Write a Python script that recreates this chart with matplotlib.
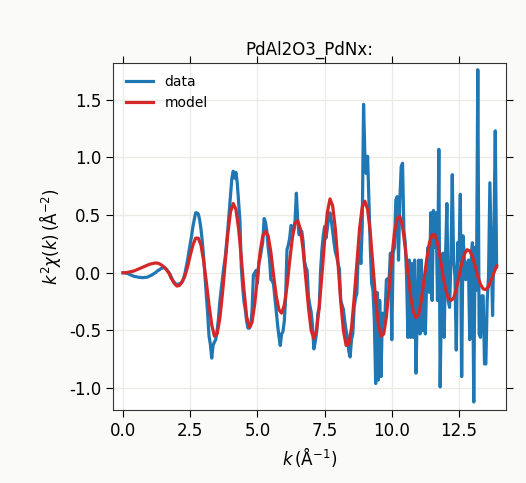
import numpy as np
import matplotlib
matplotlib.use('Agg')
import matplotlib.pyplot as plt

#%% data (k step 0.05 for data, 0.1 for model)
k_data = np.round(np.arange(0, 13.91, 0.05), 2)
chi_data = [
    0.0, 0.0, -0.002, -0.005, -0.01, -0.015, -0.02, -0.025, -0.03, -0.033,
    -0.035, -0.037, -0.04, -0.04, -0.042, -0.042, -0.04, -0.04, -0.038, -0.033,
    -0.028, -0.022, -0.015, -0.008, 0.0, 0.01, 0.02, 0.025, 0.035, 0.04,
    0.045, 0.045, 0.035, 0.02, 0.005, -0.015, -0.04, -0.065, -0.08, -0.095,
    -0.10, -0.10, -0.095, -0.09, -0.075, -0.05, -0.01, 0.05, 0.11, 0.18,
    0.25, 0.32, 0.40, 0.46, 0.52, 0.52, 0.51, 0.46, 0.38, 0.27,
    0.13, -0.03, -0.18, -0.36, -0.55, -0.62, -0.74, -0.63, -0.60, -0.58,
    -0.50, -0.40, -0.25, -0.15, -0.05, 0.05, 0.13, 0.25, 0.38, 0.53,
    0.68, 0.82, 0.88, 0.82, 0.87, 0.78, 0.62, 0.45, 0.05, -0.12,
    -0.25, -0.32, -0.42, -0.48, -0.48, -0.46, -0.33, -0.02, 0.0, 0.02,
    -0.09, 0.08, 0.13, 0.20, 0.27, 0.47, 0.44, 0.36, 0.22, 0.12,
    -0.06, -0.07, -0.10, -0.22, -0.33, -0.45, -0.55, -0.63, -0.53, -0.51,
    -0.42, -0.22, 0.20, 0.24, 0.30, 0.41, 0.40, 0.37, 0.45, 0.69,
    0.45, 0.33, 0.35, 0.36, 0.27, 0.10, 0.05, 0.02, -0.21, -0.28,
    -0.34, -0.46, -0.66, -0.60, -0.52, -0.35, -0.30, 0.02, 0.20, 0.32,
    0.40, 0.30, 0.38, 0.48, 0.52, 0.45, 0.36, 0.26, 0.18, 0.14,
    0.08, 0.03, -0.24, -0.28, -0.32, -0.42, -0.50, -0.56, -0.68, -0.73,
    -0.58, -0.53, -0.30, -0.22, -0.18, 0.14, 0.22, 0.08, 0.40, 1.46,
    1.01, 0.86, 1.01, 0.63, 0.22, -0.09, -0.15, -0.41, -0.96, -0.17,
    -0.93, -0.24, -0.90, -0.35, -0.44, -0.35, -0.06, -0.05, -0.06, 0.17,
    -0.58, 0.17, 0.22, 0.63, 0.66, 0.11, 0.63, 0.92, 0.95, 0.37,
    0.26, -0.03, -0.56, 0.11, -0.56, 0.08, -0.56, 0.11, -0.87, -0.32,
    0.11, -0.53, 0.11, -0.50, -0.06, -0.53, -0.03, 0.22, -0.17, 0.52,
    -0.24, 0.54, 0.22, 0.52, -0.24, 1.07, -0.99, -0.17, 0.17, -0.56,
    0.14, 0.60, -0.24, -0.30, 0.11, 0.85, 0.11, -0.03, -0.67, 0.26,
    0.11, 0.68, -0.90, 0.32, 0.11, -0.06, 0.05, 0.11, -0.58, 0.10,
    0.26, -1.12, 0.22, -0.15, 1.76, -0.53, -0.56, -0.20, -0.20, -0.79,
    -0.79, -0.24, -0.03, 0.78, 0.22, -0.37, 0.31, 1.23, 0.05,
]

k_model = np.round(np.arange(0, 13.91, 0.1), 1)
chi_model = [
    0.0, 0.0, 0.005, 0.01, 0.015, 0.025, 0.035, 0.045, 0.055, 0.065,
    0.075, 0.08, 0.085, 0.083, 0.072, 0.055, 0.03, 0.0, -0.05, -0.09,
    -0.115, -0.11, -0.08, -0.03, 0.05, 0.15, 0.24, 0.30, 0.30, 0.24,
    0.10, -0.08, -0.28, -0.45, -0.55, -0.53, -0.40, -0.18, 0.08, 0.34,
    0.53, 0.60, 0.55, 0.38, 0.13, -0.15, -0.38, -0.47, -0.43, -0.27,
    -0.04, 0.18, 0.32, 0.36, 0.32, 0.18, -0.02, -0.20, -0.32, -0.35,
    -0.28, -0.12, 0.10, 0.30, 0.43, 0.45, 0.38, 0.20, -0.05, -0.30,
    -0.50, -0.57, -0.50, -0.30, -0.02, 0.28, 0.52, 0.64, 0.58, 0.38,
    0.08, -0.25, -0.50, -0.63, -0.62, -0.48, -0.22, 0.08, 0.38, 0.57,
    0.62, 0.55, 0.35, 0.06, -0.23, -0.45, -0.55, -0.53, -0.38, -0.13,
    0.13, 0.35, 0.47, 0.49, 0.40, 0.22, 0.0, -0.20, -0.34, -0.39,
    -0.36, -0.24, -0.06, 0.12, 0.26, 0.33, 0.33, 0.26, 0.13, -0.02,
    -0.14, -0.22, -0.24, -0.22, -0.14, -0.03, 0.08, 0.16, 0.20, 0.19,
    0.14, 0.06, -0.03, -0.10, -0.14, -0.145, -0.12, -0.06, 0.0, 0.06,
]

#%% plot
plt.rcParams['axes.unicode_minus'] = False
fig = plt.figure(figsize=(5.26, 4.83), dpi=100, facecolor='#fafaf8')
ax = fig.add_axes([0.215, 0.151, 0.747, 0.719])
ax.set_facecolor('white')

ax.plot(k_data, chi_data, '-', color='#1f77b4', linewidth=2.3, label='data')
ax.plot(k_model, chi_model, '-', color='#d62728', linewidth=2.3, label='model')

ax.set_title('PdAl2O3_PdNx:', fontsize=12)
ax.set_xlabel(r'$k\,(\mathrm{\AA}^{-1})$', fontsize=12)
ax.set_ylabel(r'$k^2\chi(k)\,(\mathrm{\AA}^{-2})$', fontsize=12)

ax.set_xlim(-0.37, 14.25)
ax.set_ylim(-1.19, 1.82)
ax.set_xticks([0, 2.5, 5, 7.5, 10, 12.5])
ax.set_yticks([-1.0, -0.5, 0.0, 0.5, 1.0, 1.5])

ax.grid(True, color='#ecebe6', linewidth=1)
ax.set_axisbelow(True)
ax.tick_params(direction='out', length=5, labelsize=12, top=True, right=True)
for s in ax.spines.values():
    s.set_color('#333333')

ax.legend(loc='upper left', frameon=False, fontsize=10)

fig.savefig('out.png', dpi=100, facecolor=fig.get_facecolor())
